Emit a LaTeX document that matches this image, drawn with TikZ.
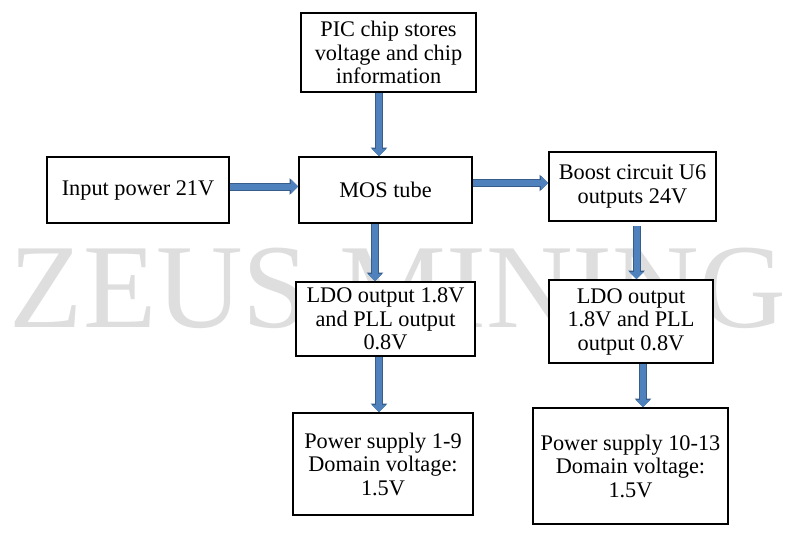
\documentclass[tikz,border=0pt]{standalone}
\usepackage{fontspec}
\setmainfont{Liberation Serif}
\usetikzlibrary{arrows.meta}
\definecolor{arrfill}{RGB}{79,129,189}
\definecolor{arrline}{RGB}{56,93,138}
\definecolor{wmgray}{RGB}{222,222,222}
\tikzset{
  box/.style={draw=black, line width=1.6pt, fill=white, align=center,
    inner sep=0pt, font=\fontsize{22.3}{23.5}\selectfont},
  barrow/.style={line width=6pt, draw=arrfill,
    -{Triangle[length=7pt,width=13.5pt]},
    preaction={draw=arrline, line width=8pt, -{Triangle[length=8.5pt,width=16pt]}}},
  wm/.style={text=wmgray, font=\fontsize{120}{120}\selectfont, inner sep=0pt}
}
\begin{document}
\begin{tikzpicture}[x=1pt,y=-1pt]
\useasboundingbox (0,0) rectangle (800,546);
\fill[white] (0,0) rectangle (800,546);
\node[wm, anchor=base] (wm) at (398,327) {ZEUS MINING};

\node[box, minimum width=175pt, minimum height=79pt] (pic) at (388.5,52.5) {PIC chip stores\\voltage and chip\\information};
\node[box, minimum width=173pt, minimum height=66pt] (mos) at (385.5,190) {MOS tube};
\node[box, minimum width=182pt, minimum height=66pt] (inp) at (138,190) {Input power 21V};
\node[box, minimum width=167pt, minimum height=69pt] (boost) at (632.5,186.5) {Boost circuit U6\\outputs 24V};
\node[box, minimum width=179pt, minimum height=74pt] (ldoL) at (385.5,319) {LDO output 1.8V\\and PLL output\\0.8V};
\node[box, minimum width=180pt, minimum height=102pt] (psL) at (383,464) {Power supply 1-9\\Domain voltage:\\1.5V};
\node[box, minimum width=164pt, minimum height=83pt] (ldoR) at (631,321.5) {LDO output\\1.8V and PLL\\output 0.8V};
\node[box, minimum width=195pt, minimum height=116pt] (psR) at (630.5,466) {Power supply 10-13\\Domain voltage:\\1.5V};

\draw[barrow] ([xshift=-9.5pt]pic.south) -- ([xshift=-9.5pt]pic.south |- mos.north);
\draw[barrow] ([yshift=3.5pt]inp.east) -- ([yshift=3.5pt]inp.east -| mos.west);
\draw[barrow] ([yshift=7pt]mos.east) -- ([yshift=7pt]mos.east -| boost.west);
\draw[barrow] ([xshift=-10.5pt]mos.south) -- ([xshift=-10.5pt]mos.south |- ldoL.north);
\draw[barrow] ([xshift=-6.5pt]ldoL.south) -- ([xshift=-6.5pt]ldoL.south |- psL.north);
\draw[barrow] ([xshift=4pt,yshift=-4pt]boost.south) -- ([xshift=4pt]boost.south |- ldoR.north);
\draw[barrow] ([xshift=12pt]ldoR.south) -- ([xshift=12pt]ldoR.south |- psR.north);
\end{tikzpicture}
\end{document}
